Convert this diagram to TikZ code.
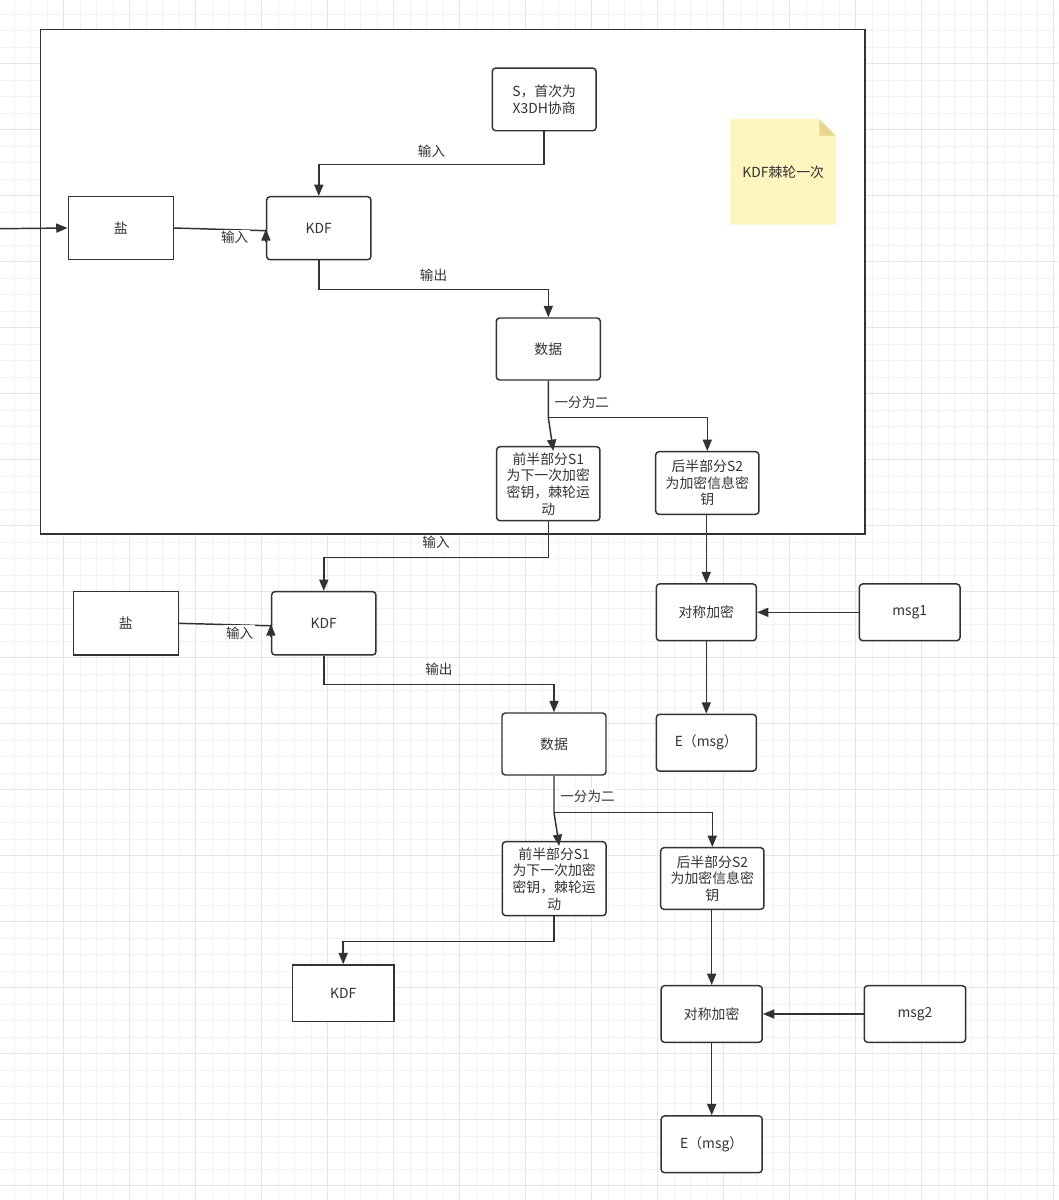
\documentclass[tikz,border=0pt]{standalone}
\usepackage{fontspec}
\setmainfont{Noto Sans CJK SC}
\usetikzlibrary{arrows.meta,calc}
\definecolor{stroke}{RGB}{50,50,50}
\definecolor{txt}{RGB}{51,51,51}
\definecolor{gridminor}{RGB}{242,242,242}
\definecolor{gridmajor}{RGB}{229,229,229}
\definecolor{notefill}{RGB}{255,245,190}
\definecolor{notefold}{RGB}{232,214,140}
\pgfdeclarelayer{gridlayer}
\pgfdeclarelayer{under}
\pgfsetlayers{gridlayer,under,main}
\begin{document}
\begin{tikzpicture}[x=0.75pt,y=-0.75pt,
  font=\fontsize{10.4}{12.5}\selectfont,
  sz/.style 2 args={minimum width=#1*0.75pt, minimum height=#2*0.75pt},
  sq/.style={draw=stroke, line width=1.1pt, fill=white, text=txt, align=center, inner sep=0pt},
  rd/.style={sq, rounded corners=2.5pt},
  ln/.style={draw=stroke, line width=1.1pt},
  arr/.style={ln, -{Triangle[length=8.5pt,width=6.8pt]}},
  lbl/.style={fill=white, text=txt, inner sep=1.2pt, font=\fontsize{10.2}{12}\selectfont}
]
\useasboundingbox (0,0) rectangle (1058,1200);

% ---------- grid ----------
\begin{pgfonlayer}{gridlayer}
  \begin{scope}
    \clip (0,0) rectangle (1058,1200);
    \fill[white] (0,0) rectangle (1058,1200);
    \foreach \i in {0,...,73} {
      \draw[gridminor, line width=0.9pt] ({-2.3+16.5*\i},0) -- ({-2.3+16.5*\i},1200);
      \draw[gridminor, line width=0.9pt] (0,{-2.3+16.5*\i}) -- (1058,{-2.3+16.5*\i});
    }
    \foreach \i in {0,...,18} {
      \draw[gridmajor, line width=0.9pt] ({-2.3+66*\i},0) -- ({-2.3+66*\i},1200);
      \draw[gridmajor, line width=0.9pt] (0,{-2.3+66*\i}) -- (1058,{-2.3+66*\i});
    }
  \end{scope}
\end{pgfonlayer}

% ---------- first round (inside frame) ----------
\node[sq, sz={105}{62.6}] (salt1) at (120.8,228) {盐};
\node[rd, sz={104.3}{63}] (kdf1) at (318.8,228.2) {KDF};
\node[rd, sz={103.7}{62.7}] (S) at (544.2,99.4) {S，首次为\\X3DH协商};
\node[rd, sz={104}{62}] (data1) at (548.3,349) {数据};
\node[rd, sz={103.3}{74}] (s1a) at (548.3,483.7) {前半部分S1\\为下一次加密\\密钥，棘轮运\\动};
\node[rd, sz={103.3}{62.6}] (s2a) at (707.3,483) {后半部分S2\\为加密信息密\\钥};
\node[text=txt, sz={105}{105}, inner sep=0pt] (note) at (783.2,171.8) {KDF棘轮一次};

% frame and note background
\begin{pgfonlayer}{under}
  \node[draw=stroke, line width=0.9pt, fill=white, sz={824.7}{504.7}, inner sep=0pt] (frame) at (452.65,281.65) {};
  \fill[notefill] (note.north west) -- ($(note.north east)+(-16.7,0)$) -- ($(note.north east)+(0,16.7)$) -- (note.south east) -- (note.south west) -- cycle;
  \fill[notefold] ($(note.north east)+(-16.7,0)$) -- ($(note.north east)+(-16.7,16.7)$) -- ($(note.north east)+(0,16.7)$) -- cycle;
\end{pgfonlayer}

% ---------- encryption branch 1 ----------
\node[rd, sz={100}{56.7}] (enc1) at (706.3,612.3) {对称加密};
\node[rd, sz={100.7}{56.7}] (msg1) at (909.7,612.3) {msg1};
\node[rd, sz={100}{56.7}] (e1) at (706.3,742.7) {E（msg）};

% ---------- second round ----------
\node[sq, sz={105}{63.3}] (salt2) at (125.8,623.3) {盐};
\node[rd, sz={104.3}{63.3}] (kdf2) at (323.8,623.3) {KDF};
\node[rd, sz={104}{62}] (data2) at (554,744) {数据};
\node[rd, sz={103.7}{74}] (s1b) at (554.2,878.7) {前半部分S1\\为下一次加密\\密钥，棘轮运\\动};
\node[rd, sz={103.3}{61.6}] (s2b) at (712.3,878.5) {后半部分S2\\为加密信息密\\钥};
\node[sq, sz={101.7}{56.7}] (kdf3) at (343.2,993.3) {KDF};
\node[rd, sz={101}{56.6}] (enc2) at (711.7,1014) {对称加密};
\node[rd, sz={101.4}{56.6}] (msg2) at (915,1014) {msg2};
\node[rd, sz={101}{56.7}] (e2) at (711.7,1144.3) {E（msg）};

% ---------- connectors, round 1 ----------
\coordinate (in0) at (0,228.7);
\draw[arr] (in0) -- (salt1.west);
\draw[ln] (salt1.east) -- ($(kdf1.west)+(0,2.5)$) node[lbl, pos=0.66, yshift=-6pt] {输入};
\draw[arr] ($(kdf1.west)+(0,14)$) -- ($(kdf1.west)+(0,1)$);
\draw[arr] (S.south) -- ++(0,32.8) -| (kdf1.north) node[lbl, pos=0.25, yshift=9.6pt] {输入};
\draw[arr] (kdf1.south) -- ++(0,29) -| (data1.north) node[lbl, pos=0.25, yshift=10.3pt] {输出};
\coordinate (sp1) at ($(data1.south)+(0,36.7)$);
\draw[arr] (data1.south) -- (sp1) node[lbl, pos=0.59, anchor=west, xshift=3pt] {一分为二} -- ($(s1a.north)+(5,5)$);
\draw[arr] (sp1) -| (s2a.north);
\draw[arr] (s2a.south -| enc1.north) -- (enc1.north);
\draw[arr] (msg1.west) -- (enc1.east);
\draw[arr] (enc1.south) -- (e1.north);

% ---------- connectors, round 2 ----------
\draw[arr] (s1a.south) -- ++(0,36) -| (kdf2.north) node[lbl, pos=0.25, yshift=11.2pt] {输入};
\draw[ln] (salt2.east) -- ($(kdf2.west)+(0,2.5)$) node[lbl, pos=0.66, yshift=-6pt] {输入};
\draw[arr] ($(kdf2.west)+(0,14)$) -- ($(kdf2.west)+(0,1)$);
\draw[arr] (kdf2.south) -- ++(0,29) -| (data2.north) node[lbl, pos=0.25, yshift=11.2pt] {输出};
\coordinate (sp2) at ($(data2.south)+(0,36.7)$);
\draw[arr] (data2.south) -- (sp2) node[lbl, pos=0.55, anchor=west, xshift=3pt] {一分为二} -- ($(s1b.north)+(5,5)$);
\draw[arr] (sp2) -| (s2b.north);
\draw[arr] (s2b.south -| enc2.north) -- (enc2.north);
\draw[arr] (msg2.west) -- (enc2.east);
\draw[arr] (enc2.south) -- (e2.north);
\draw[arr] (s1b.south) -- ++(0,25.3) -| (kdf3.north);
\end{tikzpicture}
\end{document}
